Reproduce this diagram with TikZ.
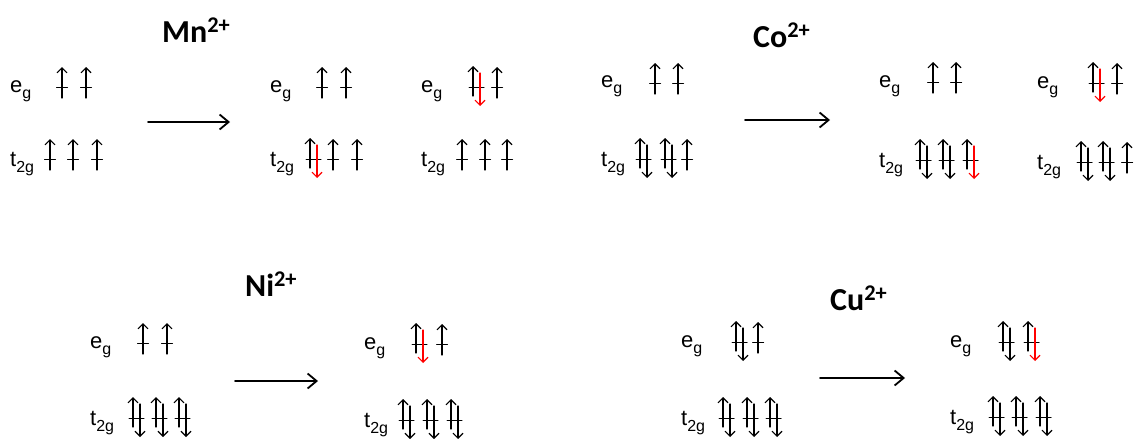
\documentclass[tikz,border=0pt]{standalone}
\usepackage{fontspec}
\setmainfont{Liberation Sans}
\newfontfamily\ionfont{Carlito}
\usetikzlibrary{arrows.meta}

% one orbital holding one electron
\newcommand{\sgl}[2]{%
  \draw[lev] (#1-5.5,#2) -- (#1+5.5,#2);
  \draw[spin] (#1,#2+11) -- (#1,#2-20);}
% one orbital holding a pair, #3 = colour of the down spin
\newcommand{\dbl}[3]{%
  \draw[lev] (#1-4,#2) -- (#1+11,#2);
  \draw[spin] (#1,#2+9) -- (#1,#2-21);
  \draw[spin,#3] (#1+7,#2-14) -- (#1+7,#2+19);}
% lowered index, a bit larger than \textsubscript
\newcommand{\lo}[1]{\raisebox{-0.3em}{\fontsize{16}{18}\selectfont #1}}

\begin{document}
\begin{tikzpicture}[x=1pt,y=-1pt,line cap=round,
  spin/.style={line width=1.1pt,-{Straight Barb[length=5pt,width=10pt]}},
  lev/.style={line width=1pt},
  lbl/.style={anchor=base west,inner sep=0pt,font=\fontsize{22}{26}\selectfont},
  ion/.style={anchor=base west,inner sep=0pt,font=\ionfont\bfseries\fontsize{32}{36}\selectfont},
  react/.style={line width=1.8pt,-{Straight Barb[length=9pt,width=15pt]}}]
\useasboundingbox (0,0) rectangle (1141,439);

% Mn2+
\node[lbl] (egA) at (10,92) {e\lo{g}};
\node[lbl] (tgA) at (10,166) {t\lo{2g}};
\sgl{62}{87} \sgl{86}{87}
\sgl{50}{159} \sgl{73}{159} \sgl{97}{159}
\node[ion] (mn) at (162,42) {Mn\textsuperscript{2+}};
\coordinate (mnL) at (148,122);
\coordinate (mnR) at (230,122);
\draw[react] (mnL) -- (mnR);
\node[lbl] (egB) at (270,92) {e\lo{g}};
\node[lbl] (tgB) at (270,166) {t\lo{2g}};
\sgl{322}{87} \sgl{346}{87}
\dbl{310}{159}{red} \sgl{333}{159} \sgl{357}{159}
\node[lbl] (egC) at (421,92) {e\lo{g}};
\node[lbl] (tgC) at (421,166) {t\lo{2g}};
\dbl{473}{87}{red} \sgl{497}{87}
\sgl{462}{159} \sgl{485}{159} \sgl{507}{159}

% Co2+
\node[lbl] (egD) at (601,87) {e\lo{g}};
\node[lbl] (tgD) at (601,166) {t\lo{2g}};
\sgl{655}{83} \sgl{678}{83}
\dbl{640}{159}{black} \dbl{665}{159}{black} \sgl{687}{159}
\node[ion] (co) at (753,47) {Co\textsuperscript{2+}};
\coordinate (coL) at (745,120);
\coordinate (coR) at (830,120);
\draw[react] (coL) -- (coR);
\node[lbl] (egE) at (879,87) {e\lo{g}};
\node[lbl] (tgE) at (879,167) {t\lo{2g}};
\sgl{933}{82} \sgl{956}{82}
\dbl{920}{160}{black} \dbl{943}{160}{black} \dbl{967}{160}{red}
\node[lbl] (egF) at (1037,88) {e\lo{g}};
\node[lbl] (tgF) at (1037,169) {t\lo{2g}};
\dbl{1093}{83}{red} \sgl{1117}{83}
\dbl{1081}{162}{black} \dbl{1103}{162}{black} \sgl{1127}{162}

% Ni2+
\node[lbl] (egG) at (90,348) {e\lo{g}};
\node[lbl] (tgG) at (90,425) {t\lo{2g}};
\sgl{143}{343} \sgl{167}{343}
\dbl{133}{418}{black} \dbl{156}{418}{black} \dbl{179}{418}{black}
\node[ion] (ni) at (245,296) {Ni\textsuperscript{2+}};
\coordinate (niL) at (235,381);
\coordinate (niR) at (318,381);
\draw[react] (niL) -- (niR);
\node[lbl] (egH) at (364,349) {e\lo{g}};
\node[lbl] (tgH) at (364,427) {t\lo{2g}};
\dbl{416}{344}{red} \sgl{442}{344}
\dbl{403}{420}{black} \dbl{427}{420}{black} \dbl{451}{420}{black}

% Cu2+
\node[lbl] (egI) at (681,347) {e\lo{g}};
\node[lbl] (tgI) at (681,425) {t\lo{2g}};
\dbl{736}{342}{black} \sgl{758}{342}
\dbl{723}{418}{black} \dbl{747}{418}{black} \dbl{770}{418}{black}
\node[ion] (cu) at (830,310) {Cu\textsuperscript{2+}};
\coordinate (cuL) at (820,378);
\coordinate (cuR) at (905,378);
\draw[react] (cuL) -- (cuR);
\node[lbl] (egJ) at (950,347) {e\lo{g}};
\node[lbl] (tgJ) at (950,424) {t\lo{2g}};
\dbl{1003}{342}{black} \dbl{1028}{342}{red}
\dbl{993}{417}{black} \dbl{1016}{417}{black} \dbl{1040}{417}{black}
\end{tikzpicture}
\end{document}
